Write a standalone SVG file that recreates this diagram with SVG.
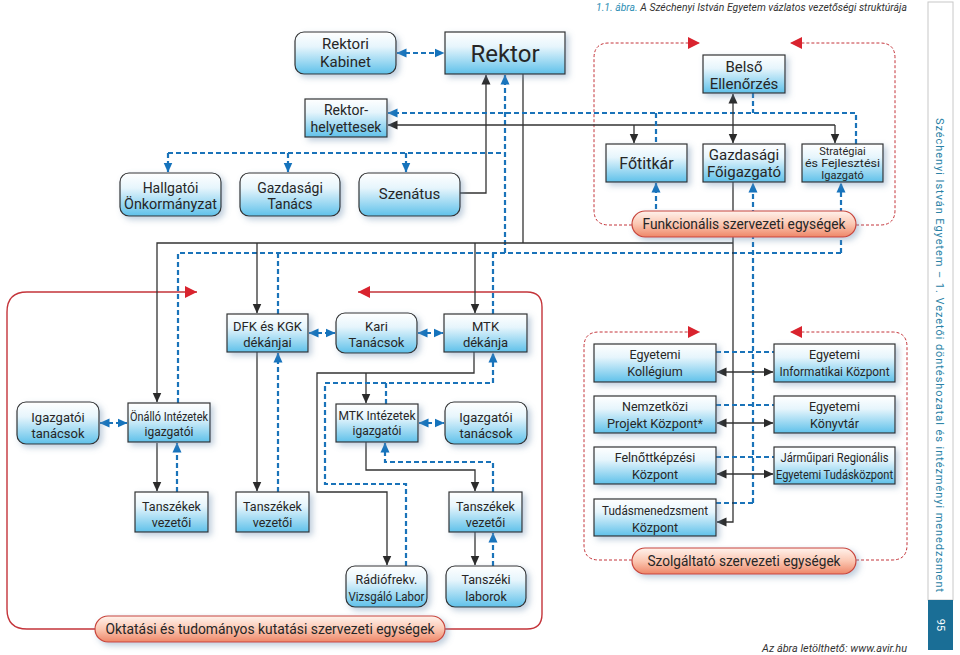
<svg xmlns="http://www.w3.org/2000/svg" width="960" height="655" viewBox="0 0 960 655">
<defs>
<linearGradient id="gb" x1="0" y1="0" x2="0" y2="1">
<stop offset="0" stop-color="#ffffff"/>
<stop offset="0.35" stop-color="#e6f5fc"/>
<stop offset="1" stop-color="#5fc1ea"/>
</linearGradient>
<linearGradient id="gp" x1="0" y1="0" x2="0" y2="1">
<stop offset="0" stop-color="#fff2ec"/>
<stop offset="0.5" stop-color="#fbc7b2"/>
<stop offset="1" stop-color="#ee8668"/>
</linearGradient>
<filter id="sh" x="-20%" y="-20%" width="150%" height="160%">
<feGaussianBlur in="SourceAlpha" stdDeviation="3"/>
<feOffset dx="3" dy="3" result="o"/>
<feFlood flood-color="#6d8fb0" flood-opacity="0.45"/>
<feComposite in2="o" operator="in"/>
<feMerge><feMergeNode/><feMergeNode in="SourceGraphic"/></feMerge>
</filter>
<marker id="ak" viewBox="0 0 10 10" refX="9.5" refY="5" markerWidth="10" markerHeight="10" markerUnits="userSpaceOnUse" orient="auto-start-reverse"><path d="M0,0.5L10,5L0,9.5z" fill="#2b2b2b"/></marker>
<marker id="ab" viewBox="0 0 10 10" refX="9.5" refY="5" markerWidth="10" markerHeight="10" markerUnits="userSpaceOnUse" orient="auto-start-reverse"><path d="M0,0.5L10,5L0,9.5z" fill="#1573bc"/></marker>
<marker id="ar" viewBox="0 0 12 12" refX="12" refY="6" markerWidth="12" markerHeight="12" markerUnits="userSpaceOnUse" orient="auto"><path d="M0,0L12,6L0,12z" fill="#d9232e"/></marker>
</defs>
<style>
.box{fill:url(#gb);stroke:#333;stroke-width:1.2;filter:url(#sh)}
.pill{fill:url(#gp);stroke:#c8453a;stroke-width:1.2;filter:url(#sh)}
.t{font-family:Roboto,"Liberation Sans",sans-serif;font-weight:400;fill:#262626;text-anchor:middle}
.s24{font-size:24px}.s16{font-size:16px}.s15{font-size:15px}.s14{font-size:14px}.s13{font-size:13px}.s125{font-size:12.5px}.s12{font-size:12px}.s11{font-size:11px}
.k{fill:none;stroke:#333;stroke-width:1.3}
.b{fill:none;stroke:#1a73b9;stroke-width:2.2;stroke-dasharray:5 3}
.rd{fill:none;stroke:#c4343a;stroke-width:1;stroke-dasharray:3 2}
.rs{fill:none;stroke:#c4343a;stroke-width:1.4}
</style>
<rect x="0" y="0" width="960" height="655" fill="#ffffff"/>

<g id="header">
<text x="596" y="11" font-family="Roboto,'Liberation Sans',sans-serif" font-size="10.5" font-style="italic" fill="#333" textLength="311" lengthAdjust="spacingAndGlyphs"><tspan fill="#2f8fb5">1.1. ábra.</tspan> A Széchenyi István Egyetem vázlatos vezetőségi struktúrája</text>
<text x="762" y="652" font-family="Roboto,'Liberation Sans',sans-serif" font-size="11" font-style="italic" fill="#333" textLength="145" lengthAdjust="spacingAndGlyphs">Az ábra letölthető: www.avir.hu</text>
</g>

<g id="sidebar">
<rect x="928" y="2" width="25" height="598" fill="#ffffff" stroke="#c8c8c8" stroke-width="1"/>
<rect x="928" y="600" width="25" height="50" fill="#1a6e96"/>
<text transform="translate(936,118) rotate(90)" font-family="Roboto,'Liberation Sans',sans-serif" font-size="11" fill="#2a82a6" textLength="474" lengthAdjust="spacing">Széchenyi István Egyetem – 1. Vezetői döntéshozatal és intézményi menedzsment</text>
<text transform="translate(937,625) rotate(90)" font-family="Roboto,'Liberation Sans',sans-serif" font-size="11" fill="#ffffff" text-anchor="middle">95</text>
</g>

<g id="frames">
<path class="rd" d="M632,225H609Q594,225 594,210V58Q594,43 609,43H700" marker-end="url(#ar)"/>
<path class="rd" d="M856,225H880Q895,225 895,210V58Q895,43 880,43H790" marker-end="url(#ar)"/>
<path class="rd" d="M632,560H599Q584,560 584,545V347Q584,332 599,332H700" marker-end="url(#ar)"/>
<path class="rd" d="M856,560H892Q907,560 907,545V347Q907,332 892,332H790" marker-end="url(#ar)"/>
<path class="rs" d="M95,629H27Q7,629 7,609V312Q7,292 27,292H197" marker-end="url(#ar)"/>
<path class="rs" d="M445,629H527Q542,629 542,614V307Q542,292 527,292H358" marker-end="url(#ar)"/>
</g>

<g id="connectors">
<path class="b" d="M397,53H444" marker-start="url(#ab)" marker-end="url(#ab)"/>
<path class="k" d="M460,193H486V75" marker-end="url(#ak)"/>
<path class="b" d="M505,253V75" marker-end="url(#ab)"/>
<path class="b" d="M168,153H505"/>
<path class="b" d="M168,153V172" marker-end="url(#ab)"/>
<path class="b" d="M288,153V172" marker-end="url(#ab)"/>
<path class="b" d="M406,153V172" marker-end="url(#ab)"/>
<path class="k" d="M523,74V243"/>
<path class="k" d="M835,125H388" marker-end="url(#ak)"/>
<path class="k" d="M634,125V143" marker-end="url(#ak)"/>
<path class="k" d="M835,125V143" marker-end="url(#ak)"/>
<path class="b" d="M856,144V113H388" marker-end="url(#ab)"/>
<path class="b" d="M656,113V144"/>
<path class="b" d="M753,93V113"/>
<path class="k" d="M733,94V143" marker-start="url(#ak)" marker-end="url(#ak)"/>
<path class="b" d="M656,225V183" marker-end="url(#ab)"/>
<path class="b" d="M841,253V183" marker-end="url(#ab)"/>
<path class="b" d="M841,253H178V403"/>
<path class="b" d="M753,503V183" marker-end="url(#ab)"/>
<path class="b" d="M753,503H716"/>
<path class="k" d="M733,182V522H717" marker-end="url(#ak)"/>
<path class="k" d="M733,243H157V402" marker-end="url(#ak)"/>
<path class="k" d="M257,243V313" marker-end="url(#ak)"/>
<path class="k" d="M475,243V313" marker-end="url(#ak)"/>
<path class="b" d="M278,253V314"/>
<path class="b" d="M493,253V314"/>
<path class="b" d="M309,333H335" marker-start="url(#ab)" marker-end="url(#ab)"/>
<path class="b" d="M418,333H443" marker-start="url(#ab)" marker-end="url(#ab)"/>
<path class="b" d="M100,423H127" marker-start="url(#ab)" marker-end="url(#ab)"/>
<path class="k" d="M157,443V491" marker-end="url(#ak)"/>
<path class="b" d="M177,492V443" marker-end="url(#ab)"/>
<path class="k" d="M257,352V491" marker-end="url(#ak)"/>
<path class="b" d="M278,492V353" marker-end="url(#ab)"/>
<path class="k" d="M474,352V373H317V492H387V565" marker-end="url(#ak)"/>
<path class="k" d="M366,373V403" marker-end="url(#ak)"/>
<path class="b" d="M406,566V484H325V383H493V353" marker-end="url(#ab)"/>
<path class="b" d="M386,383V404"/>
<path class="b" d="M419,423H444" marker-start="url(#ab)" marker-end="url(#ab)"/>
<path class="k" d="M366,442V470H475V491" marker-end="url(#ak)"/>
<path class="b" d="M493,492V462H385V443" marker-end="url(#ab)"/>
<path class="k" d="M475,532V565" marker-end="url(#ak)"/>
<path class="b" d="M493,566V533" marker-end="url(#ab)"/>
<path class="b" d="M716,352H774"/>
<path class="b" d="M716,405H774"/>
<path class="b" d="M716,457H774"/>
<path class="k" d="M717,372H773" marker-start="url(#ak)" marker-end="url(#ak)"/>
<path class="k" d="M717,423H773" marker-start="url(#ak)" marker-end="url(#ak)"/>
<path class="k" d="M717,474H773" marker-start="url(#ak)" marker-end="url(#ak)"/>
</g>

<g id="rektori-kabinet"><rect class="box" x="295" y="32" width="101" height="42" rx="9"/><text class="t s15" x="345.5" y="49">Rektori</text><text class="t s15" x="345.5" y="67">Kabinet</text></g>
<g id="rektor"><rect class="box" x="445" y="32" width="120" height="42"/><text class="t s24" x="505" y="62">Rektor</text></g>
<g id="rektorhelyettesek"><rect class="box" x="305" y="99" width="82" height="38"/><text class="t s14" x="346" y="115">Rektor-</text><text class="t s14" x="346" y="132">helyettesek</text></g>
<g id="hallgatoi"><rect class="box" x="120" y="173" width="101" height="43" rx="9"/><text class="t s14" x="170.5" y="193">Hallgatói</text><text class="t s14" x="170.5" y="209" textLength="93" lengthAdjust="spacingAndGlyphs">Önkormányzat</text></g>
<g id="gazdasagi-tanacs"><rect class="box" x="240" y="173" width="100" height="43" rx="9"/><text class="t s14" x="290" y="193">Gazdasági</text><text class="t s14" x="290" y="209">Tanács</text></g>
<g id="szenatus"><rect class="box" x="359" y="173" width="101" height="43" rx="9"/><text class="t s15" x="409.5" y="199">Szenátus</text></g>
<g id="belso"><rect class="box" x="703" y="55" width="82" height="38"/><text class="t s15" x="744" y="72">Belső</text><text class="t s15" x="744" y="89">Ellenőrzés</text></g>
<g id="fotitkar"><rect class="box" x="606" y="144" width="81" height="38"/><text class="t s16" x="646.5" y="169">Főtitkár</text></g>
<g id="gazdasagi-foigazgato"><rect class="box" x="703" y="144" width="82" height="38"/><text class="t s15" x="744" y="160">Gazdasági</text><text class="t s15" x="744" y="177">Főigazgató</text></g>
<g id="strategiai"><rect class="box" x="802" y="144" width="81" height="38"/><text class="t s11" x="842.5" y="155">Stratégiai</text><text class="t s11" x="842.5" y="167" textLength="75" lengthAdjust="spacingAndGlyphs">és Fejlesztési</text><text class="t s11" x="842.5" y="179">Igazgató</text></g>
<g id="funkcionalis"><rect class="pill" x="632" y="211" width="224" height="26" rx="13"/><text class="t s15" x="744" y="229" textLength="203" lengthAdjust="spacingAndGlyphs">Funkcionális szervezeti egységek</text></g>
<g id="dfk"><rect class="box" x="227" y="314" width="81" height="38"/><text class="t s13" x="267.5" y="331">DFK és KGK</text><text class="t s13" x="267.5" y="347">dékánjai</text></g>
<g id="kari"><rect class="box" x="336" y="313" width="81" height="40" rx="9"/><text class="t s13" x="376.5" y="331">Kari</text><text class="t s13" x="376.5" y="347">Tanácsok</text></g>
<g id="mtk-dekan"><rect class="box" x="444" y="314" width="83" height="38"/><text class="t s13" x="485.5" y="331">MTK</text><text class="t s13" x="485.5" y="347">dékánja</text></g>
<g id="igazgatoi-l"><rect class="box" x="17" y="402" width="82" height="42" rx="9"/><text class="t s13" x="58" y="422">Igazgatói</text><text class="t s13" x="58" y="438">tanácsok</text></g>
<g id="onallo"><rect class="box" x="128" y="403" width="82" height="39"/><text class="t s12" x="169" y="421" textLength="78" lengthAdjust="spacingAndGlyphs">Önálló Intézetek</text><text class="t s12" x="169" y="436">igazgatói</text></g>
<g id="mtk-intezetek"><rect class="box" x="336" y="404" width="82" height="38"/><text class="t s12" x="377" y="420" textLength="77" lengthAdjust="spacingAndGlyphs">MTK Intézetek</text><text class="t s12" x="377" y="435">igazgatói</text></g>
<g id="igazgatoi-r"><rect class="box" x="445" y="402" width="82" height="42" rx="9"/><text class="t s13" x="486" y="422">Igazgatói</text><text class="t s13" x="486" y="438">tanácsok</text></g>
<g id="tanszekek-1"><rect class="box" x="135" y="492" width="73" height="40"/><text class="t s125" x="171.5" y="511">Tanszékek</text><text class="t s125" x="171.5" y="527">vezetői</text></g>
<g id="tanszekek-2"><rect class="box" x="236" y="492" width="73" height="40"/><text class="t s125" x="272.5" y="511">Tanszékek</text><text class="t s125" x="272.5" y="527">vezetői</text></g>
<g id="tanszekek-3"><rect class="box" x="449" y="492" width="73" height="40"/><text class="t s125" x="485.5" y="511">Tanszékek</text><text class="t s125" x="485.5" y="527">vezetői</text></g>
<g id="radiofrekv"><rect class="box" x="346" y="566" width="81" height="41" rx="9"/><text class="t s125" x="386.5" y="584">Rádiófrekv.</text><text class="t s125" x="386.5" y="601" textLength="76" lengthAdjust="spacingAndGlyphs">Vizsgáló Labor</text></g>
<g id="tanszeki-laborok"><rect class="box" x="446" y="566" width="80" height="41" rx="9"/><text class="t s125" x="486" y="584">Tanszéki</text><text class="t s125" x="486" y="601">laborok</text></g>
<g id="oktatasi"><rect class="pill" x="95" y="616" width="350" height="26" rx="13"/><text class="t s15" x="270" y="634" textLength="329" lengthAdjust="spacingAndGlyphs">Oktatási és tudományos kutatási szervezeti egységek</text></g>
<g id="kollegium"><rect class="box" x="594" y="344" width="122" height="38"/><text class="t s125" x="655" y="359">Egyetemi</text><text class="t s125" x="655" y="376">Kollégium</text></g>
<g id="nemzetkozi"><rect class="box" x="594" y="396" width="122" height="37"/><text class="t s125" x="655" y="411">Nemzetközi</text><text class="t s125" x="655" y="428" textLength="96" lengthAdjust="spacingAndGlyphs">Projekt Központ*</text></g>
<g id="felnottkepzesi"><rect class="box" x="594" y="447" width="122" height="37"/><text class="t s125" x="655" y="462">Felnőttképzési</text><text class="t s125" x="655" y="479">Központ</text></g>
<g id="tudasmenedzsment"><rect class="box" x="594" y="499" width="122" height="37"/><text class="t s125" x="655" y="515" textLength="106" lengthAdjust="spacingAndGlyphs">Tudásmenedzsment</text><text class="t s125" x="655" y="532">Központ</text></g>
<g id="informatikai"><rect class="box" x="774" y="344" width="121" height="38"/><text class="t s125" x="834.5" y="359">Egyetemi</text><text class="t s125" x="834.5" y="376" textLength="110" lengthAdjust="spacingAndGlyphs">Informatikai Központ</text></g>
<g id="konyvtar"><rect class="box" x="774" y="396" width="121" height="37"/><text class="t s125" x="834.5" y="411">Egyetemi</text><text class="t s125" x="834.5" y="428">Könyvtár</text></g>
<g id="jarmuipari"><rect class="box" x="774" y="447" width="121" height="37"/><text class="t s125" x="834.5" y="462" textLength="108" lengthAdjust="spacingAndGlyphs">Járműipari Regionális</text><text class="t s125" x="834.5" y="479" textLength="117" lengthAdjust="spacingAndGlyphs">Egyetemi Tudásközpont</text></g>
<g id="szolgaltato"><rect class="pill" x="632" y="548" width="224" height="26" rx="13"/><text class="t s15" x="744" y="566" textLength="193" lengthAdjust="spacingAndGlyphs">Szolgáltató szervezeti egységek</text></g>
</svg>
